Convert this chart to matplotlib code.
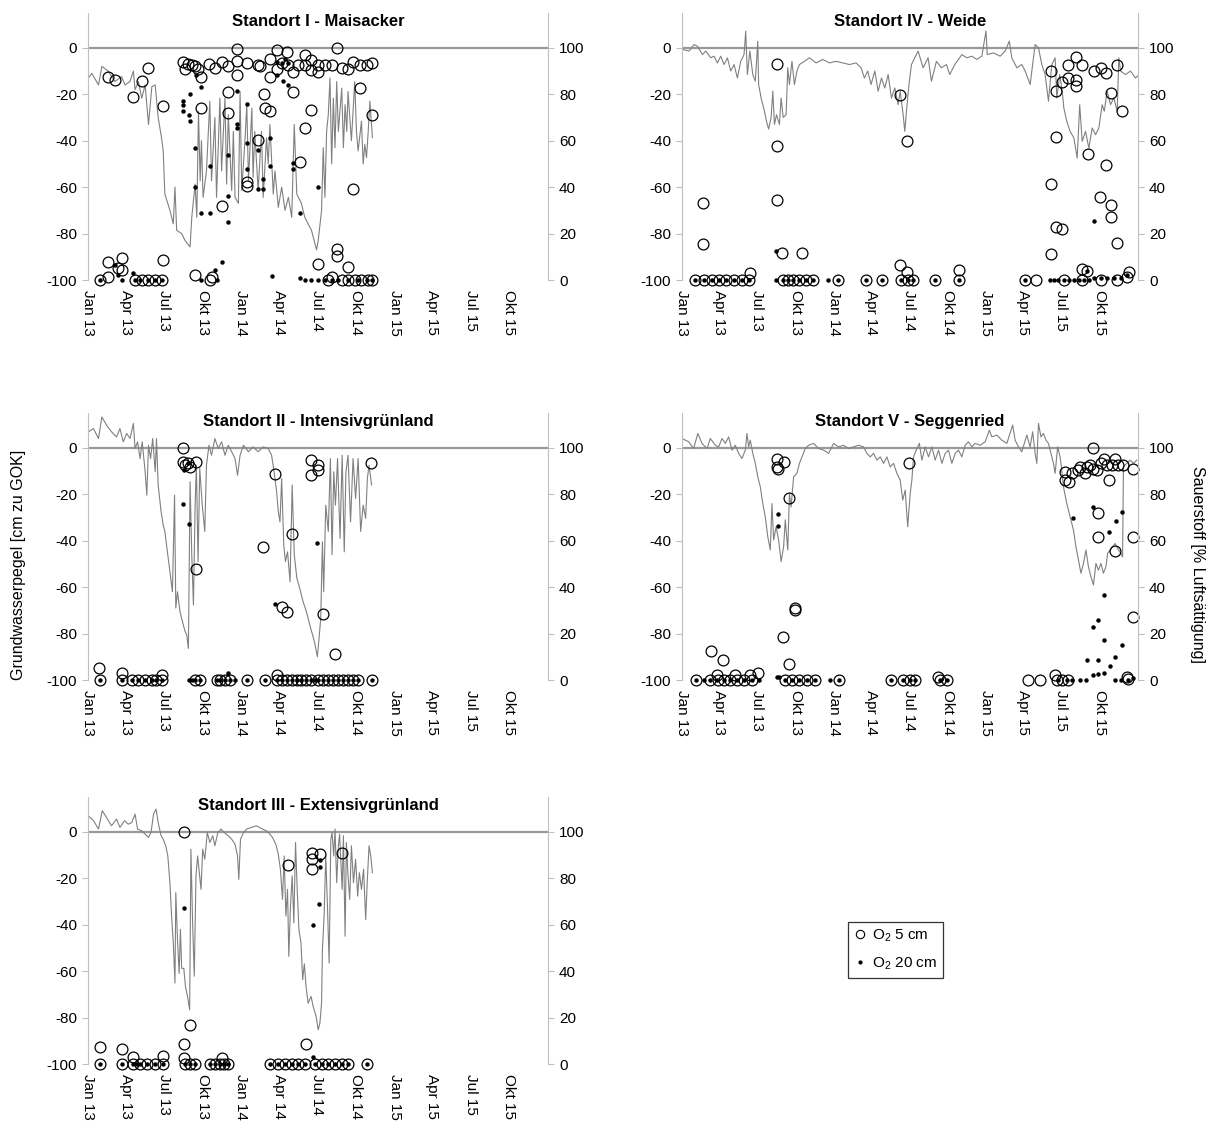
import numpy as np
import matplotlib
matplotlib.use('Agg')
import matplotlib.pyplot as plt
from matplotlib.lines import Line2D

plt.rcParams['font.family'] = ['Liberation Sans', 'DejaVu Sans']
plt.rcParams['mathtext.fontset'] = 'custom'
plt.rcParams['mathtext.rm'] = 'Liberation Sans'
plt.rcParams['font.size'] = 11
plt.rcParams['axes.unicode_minus'] = False

# x-Achse: Tage seit 01.01.2013
tick_dates = ['2013-01-01', '2013-04-01', '2013-07-01', '2013-10-01',
              '2014-01-01', '2014-04-01', '2014-07-01', '2014-10-01',
              '2015-01-01', '2015-04-01', '2015-07-01', '2015-10-01']
tick_labels = ['Jan 13', 'Apr 13', 'Jul 13', 'Okt 13',
               'Jan 14', 'Apr 14', 'Jul 14', 'Okt 14',
               'Jan 15', 'Apr 15', 'Jul 15', 'Okt 15']
start = np.datetime64('2013-01-01')
end = np.datetime64('2016-01-01')

# ---------------- Standort I - Maisacker ----------------
p1_level = [(1,-13),(9,-11),(25,-16),(33,-8),(48,-10),(64,-14.5),(80,-12.4),(88,-16),(100,-14.5),(108,-10),
            (112,-18),(120,-14.5),(128,-21.7),(136,-16),(144,-33),(152,-16.7),(160,-16),(167,-30),(175,-38.7),(179,-44.4),
            (183,-63),(195,-70),(203,-75.8),(207,-60),(211,-78.6),(223,-80),(231,-83),(243,-85.8),(247,-73),(255,-58.7),
            (259,-73),(263,-27.4),(267,-57.3),(270,-40),(274,-64.4),(282,-53),(290,-23),(294,-57.3),(302,-30),(306,-64.4),
            (314,-21.7),(318,-53),(326,-21.7),(330,-58.7),(334,-28.8),(342,-61.5),(346,-36),(350,-64.4),(358,-67),(362,-18.8),
            (366,-61.5),(374,-38.7),(378,-24.5),(382,-57.3),(390,-26),(393,-55.8),(397,-36),(405,-61.5),(413,-36),(417,-64.4),
            (425,-38.7),(429,-50),(433,-33),(441,-63),(445,-53),(453,-68.7),(461,-60),(469,-70),(477,-64.4),(485,-73),
            (491,-33),(497,-63),(508,-67),(516,-73),(524,-75.8),(532,-78.6),(544,-87),(548,-83),(556,-70),(560,-43),
            (564,-64.4),(568,-36),(572,-28.8),(576,-13),(580,-50),(584,-21.7),(588,-43),(592,-14.5),(596,-36),(604,-17.4),
            (608,-43),(612,-24.5),(616,-36),(619,-18.8),(627,-40),(635,-14.5),(639,-36),(643,-44.4),(651,-31.6),(655,-50),
            (659,-41.6),(663,-47.3),(667,-36),(671,-23),(677,-38.7)]
p1_o5 = [(48,87.6),(64,86),(108,79),(128,85.5),(144,91.5),(178,75),(227,94),(231,91),(239,93),(247,92.6),
         (255,92),(263,91),(270,87.6),(270,74),(288,93),(302,91.5),(318,94),(334,92),(334,81),(334,72),
         (354,99.7),(354,94.3),(354,88.3),(378,93.3),(405,92.6),(409,92),(405,60.5),(418,80),(421,74),(433,72.6),
         (433,87.6),(433,95.4),(449,99),(449,91),(461,93.3),(473,98.3),(477,92.6),(489,89.7),(489,81),(500,92.6),
         (516,97),(516,92.6),(532,94.7),(532,90.5),(532,73.4),(516,65.5),(548,92.6),(548,89.7),(564,92.6),(580,92.6),
         (592,100),(604,91.5),(619,91),(631,94),(647,92.6),(647,82.6),(663,92.6),(675,93.3),(675,71),(504,51),
         (378,42),(378,40.6),(318,32),(631,39),(48,7.8),(80,9.3),(72,5),(80,4.3),(48,1.4),(178,8.8),
         (255,2),(294,1.4),(548,7),(592,13.5),(592,10.3),(619,5.7),(580,1.4)] + \
        [(d, 0) for d in [29,112,128,144,160,175,290,572,604,619,635,651,667,675]]
p1_o20 = [(227,77),(227,75.5),(227,72.6),(243,80),(240,71),(243,68.4),(258,88.3),(270,83.3),(255,57),(290,49),
          (255,40),(270,29),(290,29),(334,54),(334,36.3),(334,25),(354,81.5),(354,67),(354,65.5),(378,75.8),
          (378,59),(378,47.7),(405,56),(405,39),(417,39),(417,43.4),(433,61),(433,49),(449,94),(461,93.3),
          (469,95.4),(477,93.3),(449,88.3),(465,85.5),(477,83.8),(489,50.6),(489,47.7),(548,40),(504,29),
          (64,6.4),(72,2),(108,2.8),(302,4.3),(318,7.8),(437,1.7),(504,0.7)] + \
         [(d, 0) for d in [29,80,112,124,144,160,175,270,306,516,532,548,564,580,596,619,643,663,675]]

# ---------------- Standort IV - Weide ----------------
p4_level = [(2,-0.7),(17,-1.4),(29,1.4),(37,0.7),(49,-2.9),(57,-1.4),(69,-4.3),(77,-3.6),(85,-6.5),(93,-3.6),
            (101,-7.2),(109,-4.3),(117,-10),(125,-7.2),(133,-13),(141,-5.8),(149,-2.9),(153,7.2),(157,-11.5),(163,-1.4),
            (170,-11.5),(176,-14.4),(182,2.9),(184,-15.8),(190,-21.6),(198,-27.3),(203,-31.7),(208,-35),(214,-30),(218,-18.7),
            (222,-33),(227,-28.8),(234,-33),(238,-21.6),(243,-30),(250,-28.8),(254,-8.6),(258,-15.8),(264,-5.8),(270,-15.8),
            (276,-10),(282,-7.2),(294,-5.8),(306,-4.3),(322,-6.5),(338,-5),(354,-6.5),(370,-5.8),(386,-6.5),(402,-7.2),
            (418,-6.5),(430,-8.6),(438,-13),(446,-10),(454,-15.8),(463,-10),(471,-18.7),(479,-13),(487,-17.3),(495,-11.5),
            (503,-21.6),(511,-17.3),(519,-24.5),(524,-18.7),(531,-28.8),(535,-36),(539,-27.3),(545,-15.8),(551,-7.2),(559,-4.3),
            (567,-1.4),(579,-8.6),(591,-4.3),(599,-14.4),(611,-5.8),(623,-8.6),(635,-7.2),(643,-11.5),(655,-7.2),(672,-2.9),
            (684,-4.3),(696,-3.6),(708,-5),(720,-3.6),(730,7.2),(733,-2.9),(748,-2.2),(764,-3.6),(776,-1.4),(786,2.9),
            (792,-4.3),(804,-8.6),(816,-7.2),(824,-10),(836,-15.8),(843,-5.8),(848,1.4),(856,0),(864,-7.2),(872,-11.5),
            (880,-23),(888,-7.2),(896,-4.3),(900,-21.6),(907,-11.5),(913,-18.7),(917,-26),(924,-31.7),(932,-36),(941,-38.8),
            (949,-47.5),(955,-24.5),(961,-40.3),(969,-36),(977,-43.2),(985,-34.5),(993,-37.4),(1001,-34.5),(1009,-24.5),(1014,-27.3),
            (1021,-18.7),(1029,-24.5),(1037,-21.6),(1045,-27.3),(1049,-4.3),(1053,-10),(1065,-11.5),(1077,-10),(1089,-13),(1095,-12)]
p4_o5 = [(51,33),(51,15.4),(227,93),(227,57.8),(227,34.5),(240,11.8),(288,11.8),(163,2.9),(524,79.6),(540,59.7),
         (524,6.5),(540,3.3),(664,4.3),(886,90),(899,81.6),(913,85.3),(926,92.8),(947,96),(961,92.4),(928,87),
         (947,86),(947,83.5),(989,90.2),(1005,91.4),(1017,89.2),(1045,92.8),(1031,80.6),(1057,72.7),(899,61.4),(975,54.2),
         (1017,49.6),(886,41.4),(1003,35.7),(1031,32.4),(1031,27.3),(899,23),(913,22),(1045,16.1),(886,11),(961,4.7),
         (973,3.9),(1073,3.3),(1069,1.4)] + \
        [(d, 0) for d in [31,53,73,89,105,125,145,161,242,254,266,282,298,314,374,442,481,527,543,555,
                          607,664,824,851,917,961,1005,1045]]
p4_o20 = [(226,12.7),(989,25.2),(973,3.9),(989,0.7),(1005,1),(1021,1),(1037,1),(1053,1),(1069,2)] + \
         [(d, 0) for d in [31,53,73,89,105,125,145,161,226,242,254,266,282,298,314,350,374,442,481,527,
                           543,555,607,664,824,884,894,904,917,929,941,953,965,977]]

# ---------------- Standort II - Intensivgrünland ----------------
p2_level = [(1,6.9),(13,8.3),(25,4),(33,13.3),(44,9.8),(56,6.9),(68,4.7),(76,8.3),(84,2.6),(92,6.2),
            (100,4),(108,10.5),(112,-0.3),(118,2.6),(124,-4.6),(129,2.6),(136,-10.3),(140,-20.4),(144,1.1),(149,-4.6),
            (154,4),(160,-10.3),(163,4),(167,-16),(174,-27.5),(179,-33.3),(183,-36),(187,-41.9),(195,-53.4),(201,-62),
            (206,-20.4),(209,-69),(213,-62),(219,-70.6),(225,-75),(231,-79),(235,-80.6),(239,-86.4),(243,-14.6),(247,-46),
            (251,-67.7),(255,-24.7),(258,-7.5),(262,-49),(266,-8.9),(272,-24.7),(278,-36),(282,-7.5),(288,1.1),(294,-3.2),
            (302,4),(310,-0.3),(318,2.6),(326,-3.2),(334,1.1),(342,-1.7),(350,-4.6),(356,-11.8),(362,-3.2),(370,1.1),
            (382,-1.7),(393,0.4),(405,-1.7),(417,0.4),(429,-0.3),(437,-3.2),(443,-10.3),(449,-18.9),(453,-27.5),(457,-31.9),
            (461,-13.2),(466,-41.9),(470,-49),(475,-44.8),(481,-57.7),(486,-16),(491,-46),(497,-56),(504,-60.5),(512,-66.3),
            (520,-70.6),(528,-76.3),(539,-83.5),(546,-90),(550,-82),(554,-73.5),(558,-40.5),(561,-62),(566,-24.7),(572,-36),
            (577,-4.6),(581,-46),(585,-10.3),(589,-24.7),(594,-4.6),(600,-39),(605,-3.2),(610,-44.8),(614,-10.3),(619,-3.2),
            (625,-31.9),(631,-4.6),(637,-21.8),(643,-4.6),(649,-36),(655,-24.7),(661,-30.4),(665,-13.2),(669,-7.5),(675,-16)]
p2_o5 = [(227,100),(225,94),(231,92.5),(239,93.3),(243,91.8),(258,94),(256,47.6),(446,88.7),(417,57.4),(486,63),
         (462,31.3),(473,29.4),(560,28.3),(589,11),(532,94.7),(532,88.2),(548,92.5),(548,90.4),(673,93.5),(26,5),
         (80,2.9),(175,2),(449,2)] + \
        [(d, 0) for d in [29,80,104,120,136,152,163,175,255,267,306,314,326,338,378,421,449,461,473,485,
                          497,508,520,532,548,560,572,584,596,608,619,631,643,675]]
p2_o20 = [(227,75.6),(241,67.4),(228,90.4),(546,59),(446,32.6),(239,93.3),(334,2.9)] + \
         [(d, 0) for d in [29,80,104,120,136,152,163,175,240,248,255,267,306,314,326,338,350,378,421,449,
                           461,473,485,497,508,520,532,540,548,560,572,584,596,608,619,631,643,675]]

# ---------------- Standort V - Seggenried ----------------
p5_level = [(0,4),(16,2.6),(28,-0.3),(38,6.2),(48,1.9),(60,-0.3),(68,4),(80,1.1),(88,0.4),(96,4),
            (104,1.9),(112,4.7),(120,-1),(128,1.1),(136,-2.4),(144,-4.6),(152,-1),(156,6.2),(160,0.4),(164,3.3),
            (170,-2.4),(176,-6.7),(182,-12.5),(188,-16.8),(194,-24),(200,-29.7),(206,-38.3),(212,-44),(216,-24),(220,-39.7),
            (226,-34),(232,-39.7),(238,-49),(244,-42.6),(248,-31),(254,-44),(258,-19.7),(262,-25.4),(268,-12.5),(276,-11),
            (282,-6.7),(288,-3.9),(296,-0.3),(304,1.1),(316,1.9),(328,-0.3),(340,-1),(352,-2.4),(364,1.9),(376,0.4),
            (388,1.1),(400,-0.3),(412,0.4),(424,1.1),(436,0.4),(444,-2.4),(452,-3.9),(460,-2.4),(468,-5.3),(476,-3.9),
            (484,-6.7),(492,-3.9),(500,-8.2),(508,-6.7),(516,-11),(524,-13.9),(530,-22.5),(536,-18.2),(542,-34),(548,-19.7),
            (552,-13.9),(556,-3.9),(564,-0.3),(570,1.9),(576,-5.3),(584,0.4),(592,-3.9),(600,0.4),(608,-5.3),(616,-1),
            (624,-6.7),(632,-2.4),(640,-1),(648,-6.7),(656,-2.4),(664,-1),(672,-3.9),(680,1.1),(688,2.6),(696,0.4),
            (704,1.9),(716,1.1),(728,2.6),(738,7.6),(744,4.7),(756,5.5),(768,3.3),(780,1.9),(794,9.8),(800,3.3),
            (808,0.4),(816,-1.7),(822,1.9),(828,5.5),(836,0.4),(842,6.9),(848,-2.4),(852,-6.7),(856,10.5),(862,4.7),
            (868,6.2),(874,3.3),(880,1.9),(886,-2.4),(892,-6.7),(896,-11),(902,0.4),(908,-3.9),(912,-9.6),(916,-16.8),
            (924,-24),(932,-29.7),(940,-35.4),(946,-42.6),(952,-48.4),(958,-54),(964,-49.8),(970,-44),(976,-51.2),(982,-55.5),
            (988,-59.1),(994,-49.8),(1000,-52.7),(1006,-49.8),(1012,-54),(1018,-51.2),(1022,-45.5),(1028,-44),(1034,-42.6),(1040,-41.2),
            (1048,-44),(1054,-45.5),(1058,-47),(1060,-8.2),(1068,-6.7),(1076,-5.3),(1084,-6.7),(1092,-5.3)]
p5_o5 = [(228,95.2),(228,91.8),(230,90.7),(244,94),(256,78.2),(546,93.3),(272,30.8),(272,30.1),(242,18.7),(256,6.9),
         (70,12.6),(98,8.6),(84,2.2),(128,2.2),(164,2.2),(182,2.9),(614,1.4),(896,2.2),(986,100),(920,89.7),
         (920,86),(930,85.4),(936,89.2),(952,90.4),(956,91.8),(968,89),(972,91.8),(980,92.5),(988,91),(996,90.4),
         (1006,93.3),(1014,95.4),(1020,92.5),(1026,86),(1032,92.5),(1040,95.4),(1048,92.5),(1058,92.5),(1082,91),(998,72),
         (998,61.7),(1040,55.7),(1082,61.4),(1082,27),(1068,1.4),(1072,0.3)] + \
        [(d, 0) for d in [34,68,86,100,116,132,148,168,248,264,280,300,320,378,502,530,548,560,620,636,
                          832,860,900,912,928]]
p5_o20 = [(230,71.3),(230,66.3),(228,1.4),(938,69.6),(986,74.3),(1042,68.6),(1026,63.6),(1056,72.5),(1014,36.6),(998,25.8),
          (986,23),(1014,17.2),(1056,15),(972,8.6),(1000,8.6),(1040,10),(1028,6),(986,2.2),(1000,2.6),(1014,3.2),
          (1084,0.7),(232,1.1)] + \
         [(d, 0) for d in [34,52,68,84,100,116,132,148,168,184,248,264,280,300,320,356,378,502,530,548,
                           560,620,636,904,924,936,956,970,1040,1054,1072]]

# ---------------- Standort III - Extensivgrünland ----------------
p3_level = [(1,6.9),(13,4.8),(25,1.2),(34,9.1),(44,6.2),(56,2.6),(68,5.5),(76,1.9),(87,4.8),(96,3.3),
            (104,4),(112,7.6),(118,1.2),(128,0.4),(136,-1),(144,-2.4),(150,-0.3),(156,7.6),(162,9.8),(167,4),
            (174,-1.7),(179,-3.2),(185,-6),(190,-10.4),(195,-21.9),(199,-36.3),(203,-47.8),(207,-65.1),(209,-26.2),(213,-46.4),
            (217,-61),(220,-42),(223,-58.8),(228,-58.8),(232,-66.6),(237,-70.9),(242,-76.7),(245,-7.5),(249,-39.2),(253,-62.2),
            (257,-19),(261,-10.4),(265,-17.6),(269,-24.8),(273,-7.5),(278,-11.8),(284,-0.3),(290,-4.6),(297,-1.7),(302,-6),
            (309,-0.3),(317,1.2),(324,-0.3),(334,-1.7),(342,-3.2),(350,-5.3),(356,-10.4),(359,-20.5),(363,-3.2),(370,-0.3),
            (378,1.2),(389,1.9),(401,2.6),(413,1.4),(425,0.4),(433,-1),(439,-2.4),(447,-5.3),(453,-9.7),(458,-16.1),
            (463,-29.1),(467,-10.4),(471,-36.3),(475,-24.8),(478,-53.6),(482,-32),(486,-19),(490,-39.2),(494,-4.6),(498,-24.8),
            (502,-42),(507,-47.8),(511,-63.7),(515,-56.9),(519,-66.6),(524,-73.8),(531,-70.9),(536,-75.2),(543,-79.5),(548,-85.3),
            (552,-82.4),(556,-73.8),(558,-50.7),(562,-36.3),(566,-10.4),(570,-32),(574,-56.5),(578,-3.2),(581,-0.3),(585,-10.4),
            (588,1.2),(592,-21.9),(596,-6),(599,-1),(602,-13.3),(605,-24.8),(608,-1.7),(612,-45),(615,-4.6),(619,-19),
            (623,-29.1),(627,-6),(632,-21.9),(637,-11.8),(642,-27.7),(646,-17.6),(651,-24.8),(656,-16.1),(661,-37.8),(665,-20.5),
            (669,-6),(673,-10.4),(677,-17.6)]
p3_o5 = [(228,100),(243,16.7),(228,8.5),(228,2.7),(29,7.2),(80,6.3),(108,3.2),(179,3.6),(477,85.6),(518,8.6),
         (534,90.8),(534,88.2),(552,90.3),(534,84.1),(605,90.8),(318,2.4)] + \
        [(d, 0) for d in [29,80,108,124,140,160,179,231,243,255,290,302,314,324,334,433,453,469,485,500,
                          516,540,556,572,588,604,619,663]]
p3_o20 = [(228,67),(535,60),(550,68.7),(552,87.9),(552,84.7),(535,3.2)] + \
         [(d, 0) for d in [29,80,108,116,124,140,160,179,231,243,255,290,302,314,324,334,433,453,469,485,
                           500,516,540,556,572,588,604,619,663]]

tick_days = (np.array(tick_dates, dtype='datetime64[D]') - start).astype(int)
total_days = int((end - start).astype(int))

fig = plt.figure(figsize=(12.12, 11.26), dpi=100)

spine_col = '#bfbfbf'
line_col = '#808080'


def drawPanel(rect, title, level, o5, o20):
    ax = fig.add_axes(rect)
    d, v = zip(*level)
    ax.plot(d, v, color=line_col, lw=0.8, zorder=2)
    ax.axhline(0, color='#999999', lw=1.6, zorder=1)
    ax.set_xlim(0, total_days)
    ax.set_ylim(-100, 15)
    ax.set_yticks(range(-100, 1, 20))
    ax.set_xticks(tick_days)
    ax.set_xticklabels(tick_labels, rotation=270)
    ax.tick_params(axis='x', length=0, pad=7)
    ax.tick_params(axis='y', direction='out', length=4, color=spine_col, pad=4)
    for s in ['top', 'bottom', 'right']:
        ax.spines[s].set_visible(False)
    ax.spines['left'].set_color(spine_col)

    ax2 = ax.twinx()
    d5, v5 = zip(*o5)
    ax2.plot(d5, v5, ls='none', marker='o', ms=7.8, mfc='none', mec='black', mew=0.9, clip_on=False)
    d20, v20 = zip(*o20)
    ax2.plot(d20, v20, ls='none', marker='o', ms=3.2, mfc='black', mec='black', mew=0, clip_on=False)
    ax2.set_ylim(0, 115)
    ax2.set_yticks(range(0, 101, 20))
    ax2.tick_params(axis='y', direction='out', length=4, color=spine_col, pad=4)
    for s in ['top', 'bottom', 'left']:
        ax2.spines[s].set_visible(False)
    ax2.spines['right'].set_color(spine_col)
    ax2.set_xlim(0, total_days)

    ax.text(0.5, 0.998, title, transform=ax.transAxes, ha='center', va='top',
            fontweight='bold', fontsize=12)
    return ax, ax2


H = 1126.0
W = 1212.0
hgt = 267 / H
col1 = (88 / W, 460 / W)
col2 = (682 / W, 456 / W)
row1 = 1 - 280 / H
row2 = 1 - 680 / H
row3 = 1 - 1064 / H

drawPanel([col1[0], row1, col1[1], hgt], 'Standort I - Maisacker', p1_level, p1_o5, p1_o20)
drawPanel([col2[0], row1, col2[1], hgt], 'Standort IV - Weide', p4_level, p4_o5, p4_o20)
drawPanel([col1[0], row2, col1[1], hgt], 'Standort II - Intensivgrünland', p2_level, p2_o5, p2_o20)
drawPanel([col2[0], row2, col2[1], hgt], 'Standort V - Seggenried', p5_level, p5_o5, p5_o20)
drawPanel([col1[0], row3, col1[1], hgt], 'Standort III - Extensivgrünland', p3_level, p3_o5, p3_o20)

fig.text(19 / W, 1 - 565 / H, 'Grundwasserpegel [cm zu GOK]', rotation=90,
         ha='center', va='center', fontsize=11.5)
fig.text(1198 / W, 1 - 565 / H, 'Sauerstoff [% Luftsättigung]', rotation=270,
         ha='center', va='center', fontsize=11.5)

handles = [Line2D([], [], ls='none', marker='o', ms=6, mfc='none', mec='black', mew=0.8),
           Line2D([], [], ls='none', marker='o', ms=3, mfc='black', mec='black', mew=0)]
leg = fig.legend(handles, [r'O$_2$ 5 cm', r'O$_2$ 20 cm'], loc='upper left',
                 bbox_to_anchor=(848 / W, 1 - 922 / H), frameon=True, fancybox=False,
                 edgecolor='black', fontsize=11, handlelength=0.9, handletextpad=0.35,
                 borderpad=0.35, labelspacing=0.75, borderaxespad=0)
leg.get_frame().set_linewidth(0.9)

fig.savefig('out.png', dpi=100, facecolor='white')
